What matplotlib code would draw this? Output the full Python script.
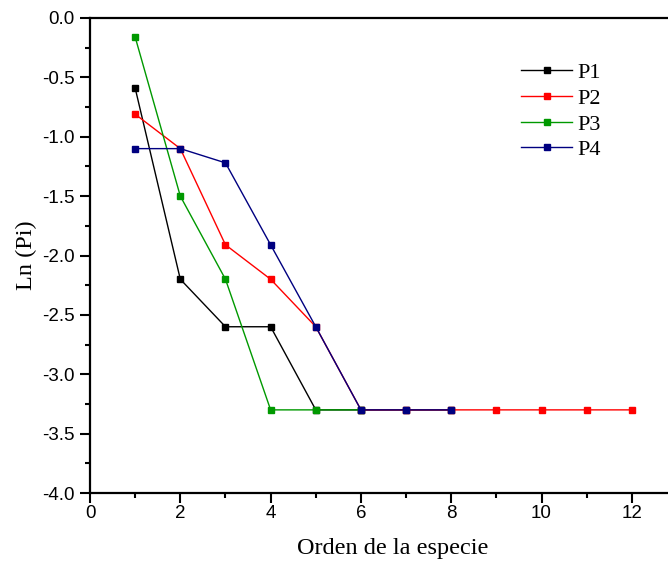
import numpy as np
from matplotlib import pyplot as plt
from matplotlib.ticker import MultipleLocator, FormatStrFormatter

# Datos: orden de la especie vs Ln(Pi)
x_p1 = [1, 2, 3, 4, 5, 6, 7, 8]
y_p1 = [-0.59, -2.2, -2.6, -2.6, -3.3, -3.3, -3.3, -3.3]

x_p2 = [1, 2, 3, 4, 5, 6, 7, 8, 9, 10, 11, 12]
y_p2 = [-0.81, -1.1, -1.91, -2.2, -2.6, -3.3, -3.3, -3.3, -3.3, -3.3, -3.3, -3.3]

x_p3 = [1, 2, 3, 4, 5, 6]
y_p3 = [-0.16, -1.5, -2.2, -3.3, -3.3, -3.3]

x_p4 = [1, 2, 3, 4, 5, 6, 7, 8]
y_p4 = [-1.1, -1.1, -1.22, -1.91, -2.6, -3.3, -3.3, -3.3]

series = [
    ("P1", x_p1, y_p1, "black"),
    ("P2", x_p2, y_p2, "#ff0000"),
    ("P3", x_p3, y_p3, "#009900"),
    ("P4", x_p4, y_p4, "#000080"),
]

fig = plt.figure(figsize=(6.68, 5.68), dpi=100)
ax = fig.add_axes([90 / 668, 1 - 493 / 568, 578 / 668, 475 / 568])

for nombre, xs, ys, color in series:
    ax.plot(xs, ys, color=color, marker="s", markersize=5, linewidth=1.0,
            label=nombre)

ax.set_xlim(0, 12.8)
ax.set_ylim(-4.0, 0.0)

ax.xaxis.set_major_locator(MultipleLocator(2))
ax.xaxis.set_minor_locator(MultipleLocator(1))
ax.yaxis.set_major_locator(MultipleLocator(0.5))
ax.yaxis.set_minor_locator(MultipleLocator(0.25))
ax.yaxis.set_major_formatter(FormatStrFormatter("%.1f"))

ax.spines["right"].set_visible(False)
for s in ["left", "bottom", "top"]:
    ax.spines[s].set_linewidth(1.6)

ax.tick_params(which="major", direction="out", length=7, width=1.5,
               labelsize=13.5)
ax.tick_params(which="minor", direction="out", length=3.5, width=1.5)
ax.tick_params(axis="x", which="major", pad=2)
ax.tick_params(axis="y", which="major", pad=4)
for lab in ax.get_xticklabels() + ax.get_yticklabels():
    lab.set_family("Liberation Sans")

ax.set_xlabel("Orden de la especie", family="Liberation Serif", fontsize=17.5)
ax.set_ylabel("Ln (Pi)", family="Liberation Serif", fontsize=17.5, labelpad=4)
ax.xaxis.set_label_coords(0.524, -0.095)

ax.legend(loc="upper left", bbox_to_anchor=(0.711, 0.948), frameon=False,
          prop={"family": "Liberation Serif", "size": 16},
          handlelength=2.3, handletextpad=0.25, labelspacing=0.23)

fig.savefig("out.png", dpi=100)
